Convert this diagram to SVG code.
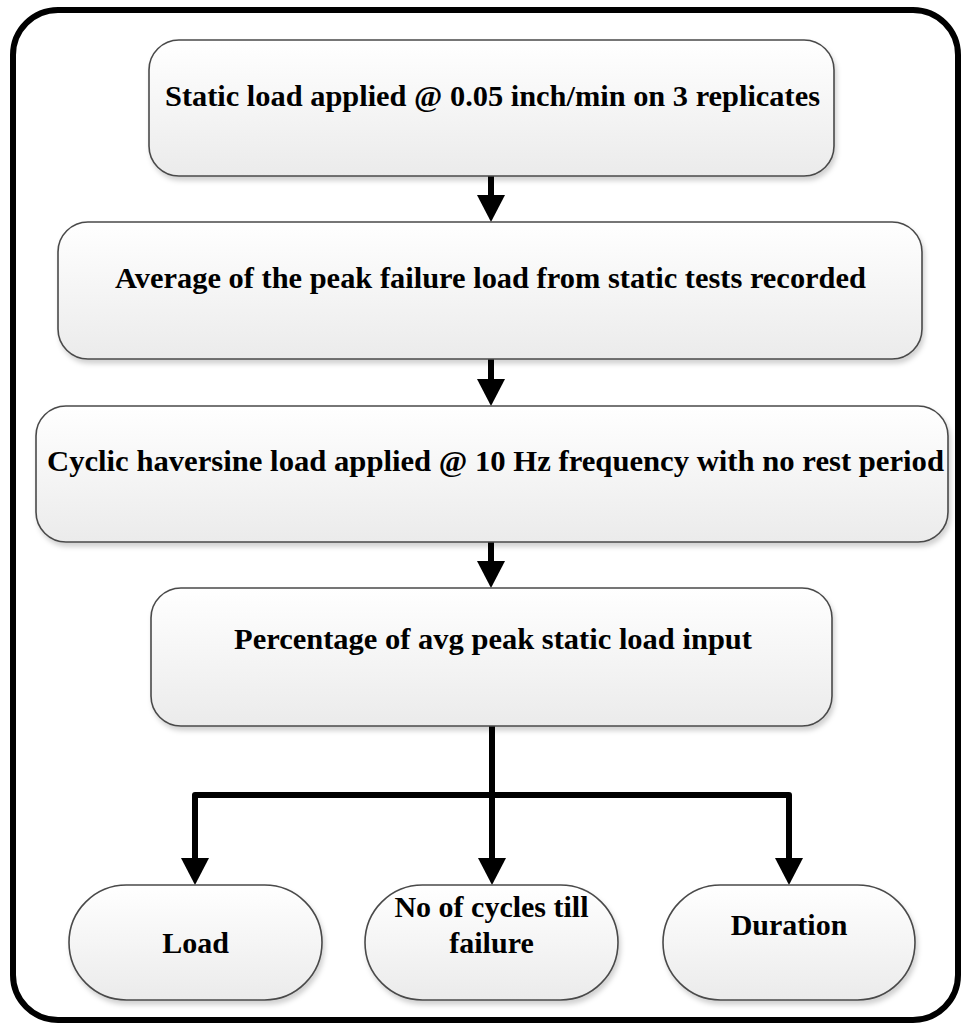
<svg xmlns="http://www.w3.org/2000/svg" width="963" height="1023" viewBox="0 0 963 1023">
<style>
.box{fill:url(#g);stroke:#4a4a4a;stroke-width:1.6;filter:url(#sh)}
.t{font-family:'Liberation Serif','Times New Roman',serif;font-weight:700;font-size:30px;fill:#000;text-anchor:middle}
.c{fill:none;stroke:#000;stroke-width:6;stroke-linejoin:round}
</style>
<defs>
<linearGradient id="g" x1="0" y1="0" x2="0" y2="1">
<stop offset="0" stop-color="#ffffff"/>
<stop offset="1" stop-color="#ebebeb"/>
</linearGradient>
<filter id="sh" x="-5%" y="-5%" width="110%" height="120%">
<feDropShadow dx="2" dy="4" stdDeviation="2.5" flood-color="#000" flood-opacity="0.18"/>
</filter>
</defs>
<rect x="0" y="0" width="963" height="1023" fill="#fff"/>
<rect id="frame" x="13" y="10" width="945" height="1010" rx="45" ry="45" fill="none" stroke="#000" stroke-width="6"/>

<g id="connectors">
<path class="c" d="M491,176 V195"/>
<path d="M477,195 L505,195 L491,222 Z" fill="#000"/>
<path class="c" d="M491,359 V379"/>
<path d="M477,379 L505,379 L491,406 Z" fill="#000"/>
<path class="c" d="M491,542 V561"/>
<path d="M477,561 L505,561 L491,588 Z" fill="#000"/>
<path class="c" d="M492,726 V858"/>
<path d="M478,858 L506,858 L492,885 Z" fill="#000"/>
<path class="c" d="M195,858 V795 H789 V858"/>
<path d="M181,858 L209,858 L195,885 Z" fill="#000"/>
<path d="M775,858 L803,858 L789,885 Z" fill="#000"/>
</g>

<g id="n1">
<rect class="box" x="149" y="40" width="685" height="136" rx="30" ry="30"/>
<text class="t" x="492.5" y="106" textLength="655" lengthAdjust="spacingAndGlyphs">Static load applied  @ 0.05 inch/min on 3 replicates</text>
</g>
<g id="n2">
<rect class="box" x="58" y="222" width="864" height="137" rx="30" ry="30"/>
<text class="t" x="490.5" y="288" textLength="751" lengthAdjust="spacingAndGlyphs">Average of the peak failure load from static tests recorded</text>
</g>
<g id="n3">
<rect class="box" x="36" y="406" width="912" height="136" rx="30" ry="30"/>
<text class="t" x="495.5" y="471" textLength="897" lengthAdjust="spacingAndGlyphs">Cyclic haversine load applied  @ 10 Hz frequency with no rest period</text>
</g>
<g id="n4">
<rect class="box" x="151" y="588" width="681" height="138" rx="30" ry="30"/>
<text class="t" x="493" y="649" textLength="518" lengthAdjust="spacingAndGlyphs">Percentage of avg peak static load input</text>
</g>
<g id="n5">
<rect class="box" x="69" y="885" width="253" height="115" rx="57.5" ry="57.5"/>
<text class="t" x="195.5" y="953">Load</text>
</g>
<g id="n6">
<rect class="box" x="365" y="885" width="253" height="115" rx="57.5" ry="57.5"/>
<text class="t" x="491.5" y="917">No of cycles till</text>
<text class="t" x="491.5" y="953">failure</text>
</g>
<g id="n7">
<rect class="box" x="663" y="885" width="252" height="115" rx="57.5" ry="57.5"/>
<text class="t" x="789" y="935">Duration</text>
</g>
</svg>
